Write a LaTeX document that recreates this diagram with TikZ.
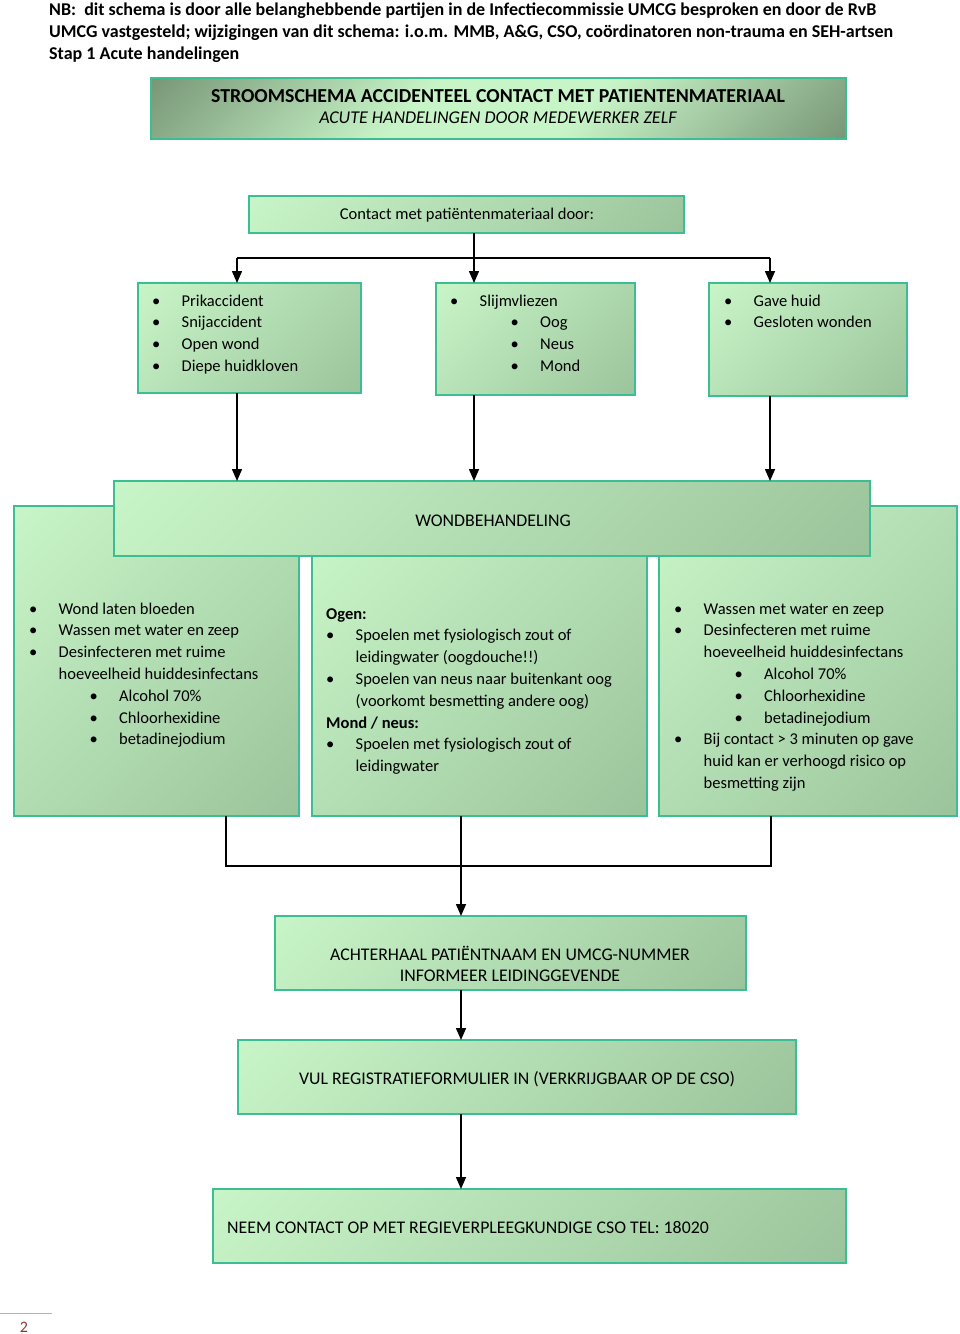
\documentclass[tikz,border=0pt]{standalone}
\usepackage{fontspec}
\setmainfont{Carlito}
\usetikzlibrary{arrows.meta}
\definecolor{glight}{HTML}{C8F5C8}
\definecolor{gdark}{HTML}{9CC49C}
\definecolor{tdark}{HTML}{7A9878}
\definecolor{bordc}{HTML}{3CBE94}
\definecolor{pgred}{HTML}{943634}
\pgfdeclareverticalshading{gshade}{100bp}{color(0bp)=(gdark); color(15bp)=(gdark); color(85bp)=(glight); color(100bp)=(glight)}
\pgfdeclareverticalshading{tshade}{100bp}{color(0bp)=(tdark); color(15bp)=(tdark); color(42bp)=(glight); color(58bp)=(glight); color(85bp)=(tdark); color(100bp)=(tdark)}
\newcommand\bl{\makebox[29.5pt][l]{\textbullet}}
\newcommand\sbl{\hspace*{60.5pt}\bl}
\newcommand\cnt{\hspace*{29.5pt}}
\tikzset{
  gbox/.style={draw=bordc, line width=1.5pt, shading=gshade, shading angle=45, anchor=north west, inner sep=0pt, outer sep=0pt},
  tbox/.style={gbox, shading=tshade, shading angle=45},
  con/.style={line width=1.5pt, black},
  arr/.style={con, -{Triangle[length=12pt,width=10pt]}},
  body/.style={inner sep=0pt, anchor=base west, font=\fontsize{16.5}{21.8}\selectfont},
  bodyc/.style={inner sep=0pt, anchor=base, font=\fontsize{16.5}{21.8}\selectfont},
  caps/.style={inner sep=0pt, anchor=base, font=\fontsize{17.8}{21}\selectfont},
  head/.style={inner sep=0pt, anchor=base west, font=\fontsize{18}{22}\selectfont\bfseries}
}
\begin{document}
\begin{tikzpicture}[x=1pt,y=-1pt]
\useasboundingbox (0,0) rectangle (960,1334);
\fill[white] (0,0) rectangle (960,1334);
% header
\node[head] (h1) at (49,15) {NB:\ \ dit schema is door alle belanghebbende partijen in de Infectiecommissie UMCG besproken en door de RvB};
\node[head] (h2) at (49,37) {UMCG vastgesteld; wijzigingen van dit schema: i.o.m. MMB, A\&G, CSO, coördinatoren non-trauma en SEH-artsen};
\node[head] (h3) at (49,59) {Stap 1 Acute handelingen};
% title
\node[tbox, minimum width=695pt, minimum height=61pt] (title) at (151,78) {};
\node[inner sep=0pt, anchor=base, font=\fontsize{19.8}{22}\selectfont\bfseries] (t1) at (498,102) {STROOMSCHEMA ACCIDENTEEL CONTACT MET PATIENTENMATERIAAL};
\node[inner sep=0pt, anchor=base, font=\fontsize{18}{22}\selectfont\itshape] (t2) at (498,123) {ACUTE HANDELINGEN DOOR MEDEWERKER ZELF};
% contact
\node[gbox, minimum width=435pt, minimum height=37pt] (ct) at (249,196) {};
\node[bodyc] (ctt) at (467,219) {Contact met patiëntenmateriaal door:};
% three boxes
\node[gbox, minimum width=223pt, minimum height=110pt] (bA) at (138,283) {};
\node[gbox, minimum width=199pt, minimum height=112pt] (bB) at (436,283) {};
\node[gbox, minimum width=198pt, minimum height=113pt] (bC) at (709,283) {};
\node[body] (tA) at (152,306) {\begin{tabular}[t]{@{}l@{}}\bl Prikaccident\\ \bl Snijaccident\\ \bl Open wond\\ \bl Diepe huidkloven\end{tabular}};
\node[body] (tB) at (450,306) {\begin{tabular}[t]{@{}l@{}}\bl Slijmvliezen\\ \sbl Oog\\ \sbl Neus\\ \sbl Mond\end{tabular}};
\node[body] (tC) at (724,306) {\begin{tabular}[t]{@{}l@{}}\bl Gave huid\\ \bl Gesloten wonden\end{tabular}};
% lower boxes
\node[gbox, minimum width=285pt, minimum height=310pt] (lb) at (14,506) {};
\node[gbox, minimum width=335pt, minimum height=276pt] (mb) at (312,540) {};
\node[gbox, minimum width=298pt, minimum height=310pt] (rb) at (659,506) {};
\node[gbox, minimum width=756pt, minimum height=75pt] (wond) at (114,481) {};
\node[caps] (wt) at (493,526) {WONDBEHANDELING};
\node[body] (tl) at (29,614) {\begin{tabular}[t]{@{}l@{}}\bl Wond laten bloeden\\ \bl Wassen met water en zeep\\ \bl Desinfecteren met ruime\\ \cnt hoeveelheid huiddesinfectans\\ \sbl Alcohol 70\%\\ \sbl Chloorhexidine\\ \sbl betadinejodium\end{tabular}};
\node[body] (tm) at (326,619) {\begin{tabular}[t]{@{}l@{}}\textbf{Ogen:}\\ \bl Spoelen met fysiologisch zout of\\ \cnt leidingwater (oogdouche!!)\\ \bl Spoelen van neus naar buitenkant oog\\ \cnt (voorkomt besmetting andere oog)\\ \textbf{Mond / neus:}\\ \bl Spoelen met fysiologisch zout of\\ \cnt leidingwater\end{tabular}};
\node[body] (tr) at (674,614) {\begin{tabular}[t]{@{}l@{}}\bl Wassen met water en zeep\\ \bl Desinfecteren met ruime\\ \cnt hoeveelheid huiddesinfectans\\ \sbl Alcohol 70\%\\ \sbl Chloorhexidine\\ \sbl betadinejodium\\ \bl Bij contact > 3 minuten op gave\\ \cnt huid kan er verhoogd risico op\\ \cnt besmetting zijn\end{tabular}};
% bottom boxes
\node[gbox, minimum width=471pt, minimum height=74pt] (ach) at (275,916) {};
\node[caps] (a1) at (510,960) {ACHTERHAAL PATIËNTNAAM EN UMCG-NUMMER};
\node[caps] (a2) at (510,981) {INFORMEER LEIDINGGEVENDE};
\node[gbox, minimum width=558pt, minimum height=74pt] (vul) at (238,1040) {};
\node[caps] (vt) at (517,1084) {VUL REGISTRATIEFORMULIER IN (VERKRIJGBAAR OP DE CSO)};
\node[gbox, minimum width=633pt, minimum height=74pt] (neem) at (213,1189) {};
\node[caps, anchor=base west] (nt) at (227,1233) {NEEM CONTACT OP MET REGIEVERPLEEGKUNDIGE CSO TEL: 18020};
% connectors
\coordinate (j) at (474,258);
\coordinate (jA) at (237,258);
\coordinate (jC) at (770,258);
\draw[con] (ct.south -| j) -- (j);
\draw[con] (jA) -- (jC);
\draw[arr] (jA) -- (bA.north -| jA);
\draw[arr] (j) -- (bB.north -| j);
\draw[arr] (jC) -- (bC.north -| jC);
\draw[arr] (bA.south -| jA) -- (wond.north -| jA);
\draw[arr] (bB.south -| j) -- (wond.north -| j);
\draw[arr] (bC.south -| jC) -- (wond.north -| jC);
\coordinate (kL) at (226,866);
\coordinate (kM) at (461,866);
\coordinate (kR) at (771,866);
\draw[con] (lb.south -| kL) -- (kL) -- (kR) -- (rb.south -| kR);
\draw[arr] (mb.south -| kM) -- (ach.north -| kM);
\draw[arr] (ach.south -| kM) -- (vul.north -| kM);
\draw[arr] (vul.south -| kM) -- (neem.north -| kM);
% page number
\coordinate (pl1) at (0,1313);
\coordinate (pl2) at (52,1313);
\draw[gray!60, line width=0.8pt] (pl1) -- (pl2);
\node[inner sep=0pt, anchor=base, text=pgred, font=\fontsize{16}{18}\selectfont] (pg) at (24,1332) {2};
\end{tikzpicture}
\end{document}
